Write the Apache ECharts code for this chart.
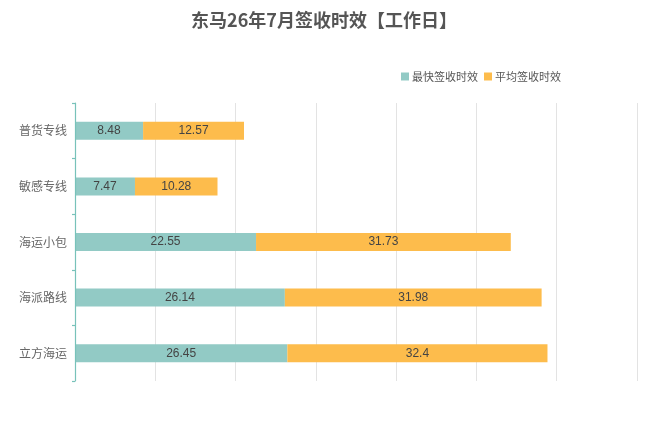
<!DOCTYPE html>
<html><head><meta charset="utf-8">
<script src="https://cdn.jsdelivr.net/npm/echarts@6/dist/echarts.min.js"></script>
<style>html,body{margin:0;padding:0;background:#fff}#c{width:648px;height:424px}</style>
</head><body><div id="c"></div>
<script>
const categories = ['普货专线', '敏感专线', '海运小包', '海派路线', '立方海运'];
const fastest = [8.48, 7.47, 22.55, 26.14, 26.45];
const average = [12.57, 10.28, 31.73, 31.98, 32.4];
const seriesNames = ['最快签收时效', '平均签收时效'];

const chart = echarts.init(document.getElementById('c'));
const labelStyle = {show: true, position: 'inside', color: '#444', fontSize: 12, fontFamily: 'Liberation Sans, Arial, sans-serif'};
chart.setOption({
  animation: false,
  title: {
    text: '东马26年7月签收时效【工作日】', left: 'center', top: 6,
    textStyle: {fontSize: 18, fontWeight: 'bold', color: '#555', fontFamily: 'Noto Sans CJK SC'}
  },
  legend: {
    data: seriesNames, left: 396, top: 66, itemWidth: 8, itemHeight: 8, itemGap: 6,
    icon: 'rect',
    textStyle: {fontSize: 11, color: '#555', fontFamily: 'Noto Sans CJK SC', padding: [0,0,0,-2]}
  },
  grid: {left: 75, right: 11, top: 103, bottom: 43, containLabel: false},
  xAxis: {
    type: 'value', min: 0, max: 70, interval: 10,
    axisLabel: {show: false}, axisLine: {show: false}, axisTick: {show: false},
    splitLine: {show: true, showMinLine: false, lineStyle: {color: '#e3e3e3', width: 1}}
  },
  yAxis: {
    type: 'category', data: categories, inverse: true, z: 5,
    axisLine: {show: true, lineStyle: {color: '#78c2ba', width: 1.2}},
    axisTick: {show: true, length: 3, lineStyle: {color: '#78c2ba', width: 1.2}},
    axisLabel: {color: '#666', fontSize: 12, margin: 8, fontFamily: 'Noto Sans CJK SC'}
  },
  series: [
    {name: seriesNames[0], type: 'bar', stack: 'a', data: fastest, barWidth: 18,
     itemStyle: {color: '#92cac5'}, label: labelStyle},
    {name: seriesNames[1], type: 'bar', stack: 'a', data: average, barWidth: 18,
     itemStyle: {color: '#fdbc4c'}, label: labelStyle}
  ]
});
</script></body></html>
